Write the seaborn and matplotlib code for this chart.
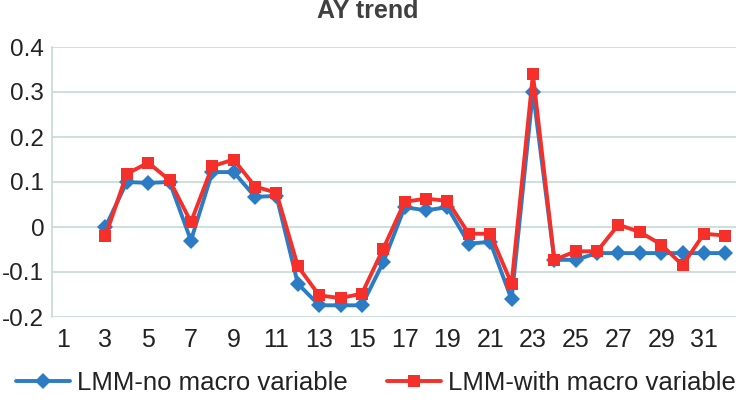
import numpy as np
import pandas as pd
import matplotlib
matplotlib.use("Agg")
import matplotlib.pyplot as plt
import seaborn as sns

# ---- data ----
periods = list(range(3, 33))
no_macro = [0.0, 0.10, 0.098, 0.10, -0.03, 0.122, 0.122, 0.067, 0.069, -0.126,
            -0.174, -0.174, -0.174, -0.078, 0.044, 0.037, 0.044, -0.037, -0.033, -0.161,
            0.301, -0.073, -0.073, -0.058, -0.058, -0.058, -0.058, -0.058, -0.058, -0.058]
with_macro = [-0.02, 0.118, 0.143, 0.104, 0.011, 0.135, 0.15, 0.09, 0.076, -0.087,
              -0.152, -0.158, -0.148, -0.048, 0.056, 0.063, 0.058, -0.015, -0.015, -0.126,
              0.339, -0.073, -0.054, -0.054, 0.005, -0.011, -0.039, -0.085, -0.015, -0.019]
series_names = ["LMM-no macro variable", "LMM-with macro variable"]
x_ticks = list(range(1, 32, 2))
y_ticks = [-0.2, -0.1, 0, 0.1, 0.2, 0.3, 0.4]
y_labels = ["-0.2", "-0.1", "0", "0.1", "0.2", "0.3", "0.4"]
title = "AY trend"

df = pd.DataFrame({
    "period": periods * 2,
    "value": no_macro + with_macro,
    "series": [series_names[0]] * len(periods) + [series_names[1]] * len(periods),
})

sns.set_theme(style="white")
plt.rcParams["font.family"] = ["Liberation Sans", "DejaVu Sans"]

fig = plt.figure(figsize=(7.36, 4.03), dpi=100)
ax = fig.add_axes([52 / 736, 1 - 317 / 403, 684 / 736, 270 / 403])

colors = {series_names[0]: "#2B7CC4", series_names[1]: "#F5302A"}
sns.lineplot(data=df, x="period", y="value", hue="series", style="series",
             palette=colors, markers={series_names[0]: "D", series_names[1]: "s"},
             dashes=False, linewidth=2.8, markersize=8.5, markeredgewidth=0,
             ax=ax, legend=True)

ax.set_xlim(0.5, 32.5)
ax.set_ylim(-0.2, 0.4)
ax.set_xticks(x_ticks)
ax.set_xticklabels([str(t) for t in x_ticks])
ax.set_yticks(y_ticks)
ax.set_yticklabels(y_labels)
ax.set_xlabel("")
ax.set_ylabel("")
grid_c = "#C3DAD5"
ax.yaxis.grid(True, color=grid_c, linewidth=1.2)
ax.xaxis.grid(False)
ax.set_axisbelow(True)
for s in ["top", "right", "bottom"]:
    ax.spines[s].set_visible(False)
ax.spines["left"].set_color(grid_c)
ax.spines["left"].set_linewidth(1.2)
ax.tick_params(axis="x", length=0, labelsize=18, colors="#222222", pad=8)
ax.tick_params(axis="y", length=0, labelsize=17.5, colors="#222222", pad=5.5)

handles, labels = ax.get_legend_handles_labels()
ax.get_legend().remove()
fig.legend(handles, labels, loc="center", bbox_to_anchor=(376 / 736, 1 - 383 / 403),
           ncol=2, frameon=False, fontsize=18.5, handlelength=2.1,
           columnspacing=1.55, handletextpad=0.25, labelcolor="#222222",
           borderpad=0, borderaxespad=0)

fig.text(0.5, 1 - 18 / 403, title, ha="center", va="baseline",
         fontsize=18, fontweight="bold", color="#404040")

fig.savefig("out.png", dpi=100)
